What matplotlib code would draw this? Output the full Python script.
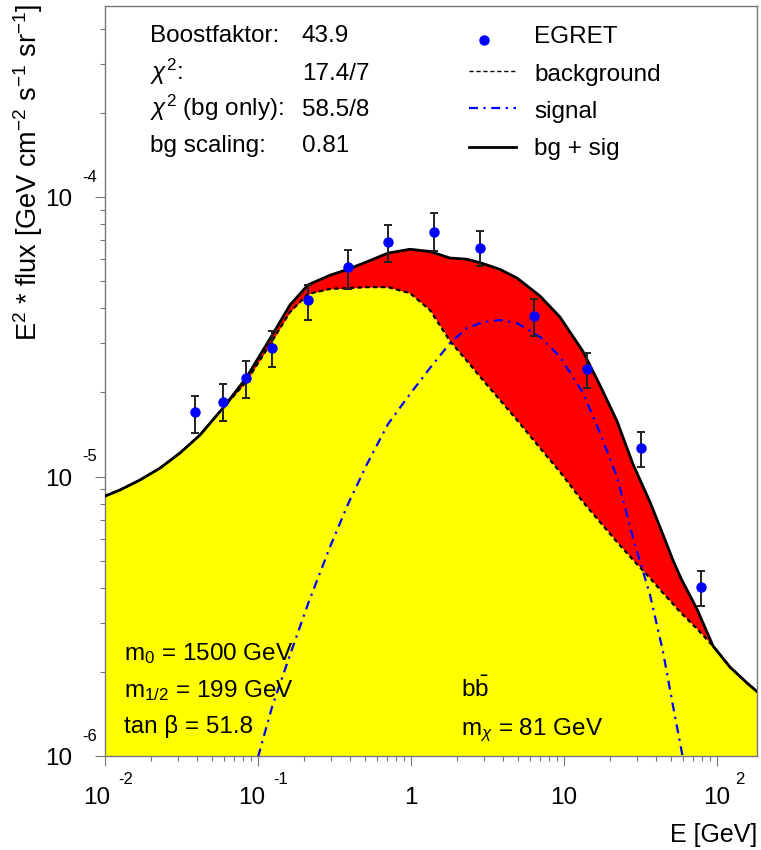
import numpy as np
import matplotlib
matplotlib.use("Agg")
import matplotlib.pyplot as plt
import matplotlib.transforms as mtransforms
from matplotlib.lines import Line2D
from matplotlib.ticker import LogLocator, NullFormatter

plt.rcParams['font.family'] = ['Liberation Sans', 'DejaVu Sans']
plt.rcParams['mathtext.fontset'] = 'custom'
plt.rcParams['mathtext.rm'] = 'Liberation Sans'
plt.rcParams['mathtext.it'] = 'Liberation Sans:italic'
plt.rcParams['mathtext.bf'] = 'Liberation Sans:bold'

# ---------------- data ----------------
# model curves (energy grid in GeV, E^2*flux)
energy = [0.01, 0.01253, 0.01694, 0.02289, 0.03093, 0.04177, 0.05904, 0.0835,
          0.1235, 0.1619, 0.2122, 0.2955, 0.3876, 0.5159, 0.7075, 0.985,
          1.331, 1.799, 2.323, 2.955, 3.816, 4.93, 6.967, 9.417,
          13.31, 17.19, 22.2, 28.25, 36.49, 44.37, 51.58, 58.19,
          74.06, 94.17, 121.6, 157.1, 194.0]
background = [8.51e-6, 8.95e-6, 9.72e-6, 1.072e-5, 1.214e-5, 1.408e-5, 1.758e-5, 2.179e-5,
              3.05e-5, 3.88e-5, 4.50e-5, 4.69e-5, 4.72e-5, 4.76e-5, 4.76e-5, 4.53e-5,
              3.94e-5, 3.05e-5, 2.59e-5, 2.21e-5, 1.878e-5, 1.592e-5, 1.265e-5, 1.038e-5,
              8.11e-6, 6.87e-6, 5.83e-6, 5.03e-6, 4.33e-6, 3.83e-6, 3.50e-6, 3.25e-6,
              2.85e-6, 2.475e-6, 2.08e-6, 1.825e-6, 1.652e-6]
nan = float('nan')
signal = [nan, nan, nan, nan, nan, nan, nan, 6.96e-7,
          1.497e-6, 2.30e-6, 3.50e-6, 5.60e-6, 7.97e-6, 1.108e-5, 1.541e-5, 1.973e-5,
          2.445e-5, 3.00e-5, 3.40e-5, 3.57e-5, 3.63e-5, 3.54e-5, 3.16e-5, 2.68e-5,
          1.99e-5, 1.431e-5, 9.96e-6, 6.03e-6, 3.77e-6, 2.36e-6, 1.51e-6, 1.068e-6,
          5.0e-7, nan, nan, nan, nan]

# EGRET data points
egret_e = [0.0387, 0.0593, 0.0835, 0.1229, 0.2134, 0.387, 0.708, 1.41, 2.82, 6.34, 14.1, 31.7, 78.2]
egret_flux = [1.698e-5, 1.847e-5, 2.257e-5, 2.89e-5, 4.28e-5, 5.63e-5, 6.89e-5,
              7.51e-5, 6.59e-5, 3.74e-5, 2.43e-5, 1.265e-5, 4.03e-6]
egret_hi = [1.94e-5, 2.148e-5, 2.589e-5, 3.316e-5, 4.84e-5, 6.46e-5, 7.94e-5,
            8.74e-5, 7.55e-5, 4.31e-5, 2.77e-5, 1.446e-5, 4.60e-6]
egret_lo = [1.435e-5, 1.584e-5, 1.91e-5, 2.47e-5, 3.63e-5, 4.69e-5, 5.85e-5,
            6.43e-5, 5.68e-5, 3.19e-5, 2.07e-5, 1.079e-5, 3.44e-6]

xticks = [0.01, 0.1, 1, 10, 100]
xtick_base = ['10', '10', '1', '10', '10']
xtick_exp = ['-2', '-1', '', '', '2']
yticks = [1e-6, 1e-5, 1e-4]
ytick_exp = ['-6', '-5', '-4']

info_labels = ['Boostfaktor:', r'$\chi^{2}$:', r'$\chi^{2}$ (bg only):', 'bg scaling:']
info_values = ['43.9', '17.4/7', '58.5/8', '0.81']
legend_labels = ['EGRET', 'background', 'signal', 'bg + sig']

# ---------------- figure ----------------
W, H = 761, 850
fig = plt.figure(figsize=(W / 100, H / 100), dpi=100)
ax = fig.add_axes([105 / W, 1 - 756 / H, (757 - 105) / W, (756 - 6) / H])

def P(x, y):
    return (x / W, 1 - y / H)

E = np.array(energy)
bg = np.array(background)
sig = np.array(signal)
tot = bg + np.nan_to_num(sig)

ax.set_xscale('log')
ax.set_yscale('log')
ax.set_xlim(0.01, 182.5)
ax.set_ylim(1e-6, 4.825e-4)

ax.fill_between(E, 1e-7, bg, color='#ffff00', lw=0, zorder=1)
ax.fill_between(E, bg, tot, color='#ff0000', lw=0, zorder=1)
ax.plot(E, bg, color='black', lw=1.6, ls=(0, (2, 1.5)), zorder=3)
ax.plot(E, sig, color='#0000ff', lw=1.6, ls=(0, (4, 2.5, 1, 2.5)), zorder=3)
ax.plot(E, tot, color='black', lw=2.0, zorder=3)

ee = np.array(egret_e)
ff = np.array(egret_flux)
yerr = [ff - np.array(egret_lo), np.array(egret_hi) - ff]
ax.errorbar(ee, ff, yerr=yerr, fmt='none', ecolor='#222222', elinewidth=1.4,
            capsize=3.2, capthick=1.4, zorder=4)
ax.plot(ee, ff, 'o', color='#0000ff', ms=6.5, mec='#0000ff', zorder=5)

# spines / ticks
for s in ax.spines.values():
    s.set_color('#777777')
    s.set_linewidth(1.0)
ax.tick_params(which='both', direction='out', color='#777777', width=0.8,
               top=False, right=False, labelbottom=False, labelleft=False)
ax.tick_params(which='major', length=7.2)
ax.tick_params(which='minor', length=3.6)
ax.xaxis.set_major_locator(LogLocator(base=10, numticks=20))
ax.xaxis.set_minor_locator(LogLocator(base=10, subs=np.arange(2, 10), numticks=20))
ax.yaxis.set_major_locator(LogLocator(base=10, numticks=20))
ax.yaxis.set_minor_locator(LogLocator(base=10, subs=np.arange(2, 10), numticks=20))
ax.xaxis.set_minor_formatter(NullFormatter())
ax.yaxis.set_minor_formatter(NullFormatter())

# manual ROOT-style tick labels
xb = mtransforms.blended_transform_factory(ax.transData, ax.transAxes)
x_base_dx = [-8, -6, 0, 0, 0]
x_exp_dx = [13, 15, 0, 0, 18]
for t, b, e, bdx, edx in zip(xticks, xtick_base, xtick_exp, x_base_dx, x_exp_dx):
    tr = mtransforms.offset_copy(xb, fig=fig, x=bdx, y=-42, units='dots')
    ax.text(t, 0, b, transform=tr, ha='center', va='center', fontsize=17.5, clip_on=False)
    if e:
        tr2 = mtransforms.offset_copy(xb, fig=fig, x=edx, y=-24, units='dots')
        ax.text(t, 0, e, transform=tr2, ha='left', va='center', fontsize=12, clip_on=False)

yb = mtransforms.blended_transform_factory(ax.transAxes, ax.transData)
for t, e in zip(yticks, ytick_exp):
    tr = mtransforms.offset_copy(yb, fig=fig, x=-33, y=-3, units='dots')
    ax.text(0, t, '10', transform=tr, ha='right', va='center', fontsize=17.5, clip_on=False)
    tr2 = mtransforms.offset_copy(yb, fig=fig, x=-23, y=20, units='dots')
    ax.text(0, t, e, transform=tr2, ha='left', va='center', fontsize=12, clip_on=False)

# axis titles
fig.text(*P(757, 835), 'E [GeV]', ha='right', va='center', fontsize=18)
fig.text(*P(28, 4), r'E$^{2}$ * flux [GeV cm$^{-2}$ s$^{-1}$ sr$^{-1}$]',
         rotation=90, ha='center', va='top', fontsize=19.5)

# info block
row_base = [42, 80, 116, 152]
for lab, val, yb_ in zip(info_labels, info_values, row_base):
    fig.text(*P(150, yb_), lab, ha='left', va='baseline', fontsize=17.5)
    fig.text(*P(302, yb_), val, ha='left', va='baseline', fontsize=17.5)

# legend (drawn manually, ROOT style)
leg_base = [43, 81, 118, 155]
leg_line_y = [40, 71, 108, 147]
fig.add_artist(Line2D([484 / W], [1 - leg_line_y[0] / H], marker='o', ms=6.5,
                      color='#0000ff', ls='none', transform=fig.transFigure))
fig.add_artist(Line2D([469 / W, 516 / W], [1 - leg_line_y[1] / H] * 2, color='black',
                      lw=1.0, ls=(0, (3, 2)), transform=fig.transFigure))
fig.add_artist(Line2D([469 / W, 516 / W], [1 - leg_line_y[2] / H] * 2, color='#0000ff',
                      lw=1.6, ls=(0, (4, 2.5, 1, 2.5)), transform=fig.transFigure))
fig.add_artist(Line2D([469 / W, 516 / W], [1 - leg_line_y[3] / H] * 2, color='black',
                      lw=2.0, transform=fig.transFigure))
for lab, yb_ in zip(legend_labels, leg_base):
    fig.text(*P(534, yb_), lab, ha='left', va='baseline', fontsize=17.5)

# parameter texts
fig.text(*P(124, 660), r'm$_{0}$ = 1500 GeV', ha='left', va='baseline', fontsize=17.5)
fig.text(*P(124, 697), r'm$_{1/2}$ = 199 GeV', ha='left', va='baseline', fontsize=17.5)
fig.text(*P(124, 733), 'tan β = 51.8', ha='left', va='baseline', fontsize=17.5)
fig.text(*P(461, 697), r'b$\bar{\mathrm{b}}$', ha='left', va='baseline', fontsize=17.5)
fig.text(*P(461, 735), r'm$_{\chi}$ = 81 GeV', ha='left', va='baseline', fontsize=17.5)

fig.savefig('out.png', dpi=100)
